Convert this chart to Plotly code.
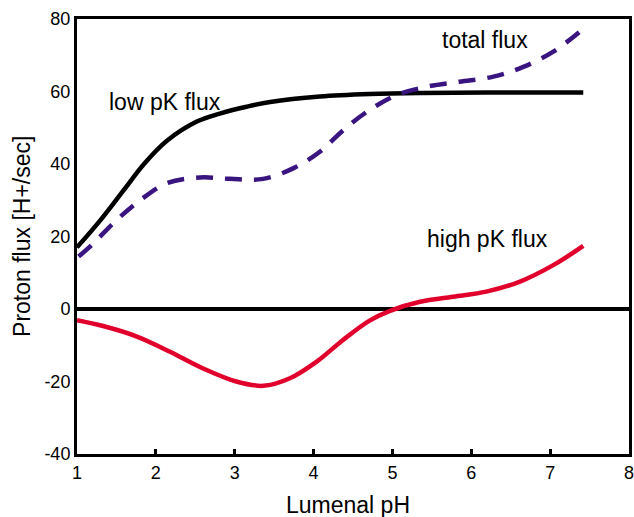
import plotly.graph_objects as go

# Data
low_x = [1.0, 1.3, 1.6, 1.85, 2.14, 2.52, 2.81, 3.15, 3.45, 4.08, 4.71, 5.35, 6.2, 7.42]
low_y = [17.0, 24.6, 33.0, 40.0, 46.4, 51.7, 53.9, 55.8, 57.1, 58.6, 59.3, 59.6, 59.7, 59.7]

total_x = [1.02, 1.165, 1.5, 1.8, 2.14, 2.56, 2.94, 3.36, 3.74, 4.08, 4.38, 4.71, 5.05,
           5.43, 5.85, 6.28, 6.66, 7.04, 7.42]
total_y = [14.5, 17.2, 24.5, 30.0, 34.7, 36.3, 35.9, 35.9, 38.8, 43.4, 49.4, 54.9, 59.0,
           61.3, 62.7, 64.1, 66.8, 71.0, 77.3]

high_x = [1.0, 1.33, 1.76, 2.18, 2.6, 3.02, 3.36, 3.7, 4.04, 4.37, 4.71, 4.97, 5.35,
          5.77, 6.19, 6.61, 7.04, 7.42]
high_y = [-3.1, -4.7, -7.6, -11.8, -16.4, -20.0, -21.2, -19.1, -14.5, -8.6, -3.2, -0.5, 2.0,
          3.4, 4.8, 7.5, 12.1, 17.4]

x_ticks = [1, 2, 3, 4, 5, 6, 7, 8]
y_ticks = [-40, -20, 0, 20, 40, 60, 80]
y_tick_text = ["-40", "-20", "0", "20", "40", "60", "80"]

labels = [("low pK flux", 2.115, 57.1), ("total flux", 6.17, 74.2), ("high pK flux", 6.2, 19.3)]
x_title = "Lumenal pH"
y_title = "Proton flux [H+/sec]"

font = "Liberation Sans, Arial, sans-serif"

fig = go.Figure()
fig.add_trace(go.Scatter(x=low_x, y=low_y, mode="lines", line=dict(color="black", width=4.5, shape="spline")))
fig.add_trace(go.Scatter(x=total_x, y=total_y, mode="lines",
                         line=dict(color="#3a1580", width=4.5, dash="17px,12px", shape="spline")))
fig.add_trace(go.Scatter(x=high_x, y=high_y, mode="lines", line=dict(color="#e0002b", width=4.5, shape="spline")))

for text, x, y in labels:
    fig.add_annotation(x=x, y=y, text=text, showarrow=False, xanchor="center", yanchor="middle",
                       font=dict(family=font, size=23, color="black"))

fig.add_annotation(x=0.491, y=-0.117, xref="paper", yref="paper", text=x_title, showarrow=False,
                   xanchor="center", yanchor="middle", font=dict(family=font, size=23, color="black"))
fig.add_annotation(x=-0.0996, y=0.499, xref="paper", yref="paper", text=y_title, showarrow=False,
                   xanchor="center", yanchor="middle", textangle=-90,
                   font=dict(family=font, size=23, color="black"))

fig.update_layout(
    width=634, height=517,
    margin=dict(l=77, r=5, t=19, b=63),
    paper_bgcolor="white", plot_bgcolor="white",
    showlegend=False,
    font=dict(family=font, color="black"),
    xaxis=dict(range=[1, 8], tickvals=x_ticks, showgrid=False, zeroline=False, automargin=False,
               showline=True, linecolor="black", linewidth=3, mirror=True,
               ticks="inside", ticklen=5, tickwidth=3, tickcolor="black",
               ticklabeloverflow="allow",
               tickfont=dict(size=18, family=font)),
    yaxis=dict(range=[-40, 80], tickvals=y_ticks, ticktext=y_tick_text, showgrid=False, automargin=False,
               zeroline=True, zerolinecolor="black", zerolinewidth=4,
               showline=True, linecolor="black", linewidth=3, mirror=True,
               ticks="", ticklabeloverflow="allow", tickfont=dict(size=18, family=font)),
)

fig.write_html("out.html", config={"displayModeBar": False},
               post_script="document.body.style.margin='0';document.body.style.overflow='hidden';")
